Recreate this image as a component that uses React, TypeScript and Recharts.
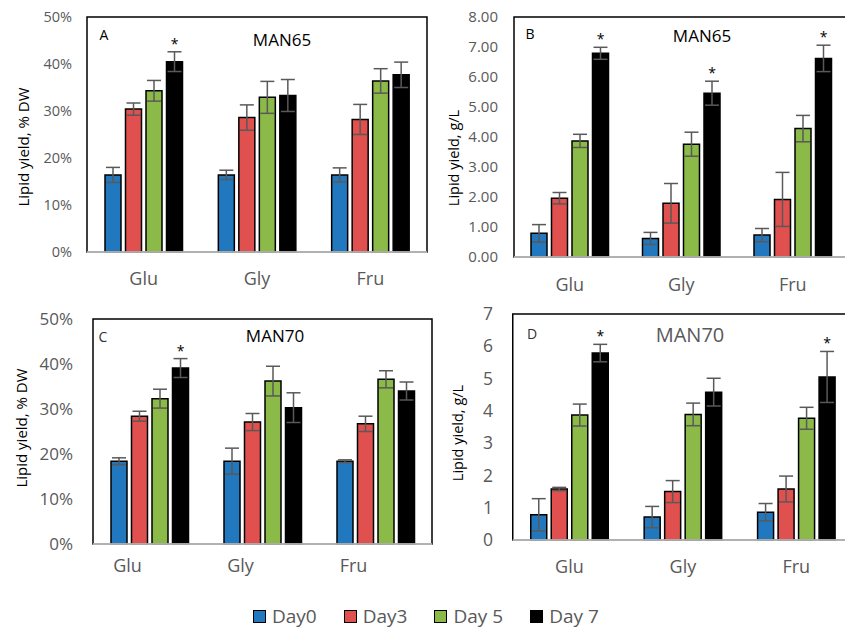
import { BarChart, Bar, XAxis, YAxis, ErrorBar, ReferenceArea, LabelList } from 'recharts'

const categories = ['Glu', 'Gly', 'Fru']
const seriesNames = ['Day0', 'Day3', 'Day 5', 'Day 7']
const seriesColors = ['#2178be', '#e0504e', '#8bba48', '#000000']

// rows: Day0, Day3, Day 5, Day 7 / columns: Glu, Gly, Fru
const man65DwMean = [
  [16.4, 16.4, 16.4],
  [30.4, 28.6, 28.2],
  [34.3, 32.9, 36.4],
  [40.5, 33.3, 37.7],
]
const man65DwErr = [
  [1.6, 1.0, 1.5],
  [1.3, 2.7, 3.2],
  [2.2, 3.4, 2.6],
  [2.1, 3.4, 2.7],
]
const man65DwStar = [true, false, false]

const man65GlMean = [
  [0.79, 0.62, 0.73],
  [1.96, 1.79, 1.92],
  [3.87, 3.76, 4.28],
  [6.79, 5.46, 6.62],
]
const man65GlErr = [
  [0.29, 0.2, 0.22],
  [0.19, 0.66, 0.9],
  [0.22, 0.4, 0.44],
  [0.2, 0.4, 0.44],
]
const man65GlStar = [true, true, true]

const man70DwMean = [
  [18.4, 18.4, 18.4],
  [28.4, 27.1, 26.7],
  [32.3, 36.2, 36.6],
  [39.1, 30.3, 34.0],
]
const man70DwErr = [
  [0.75, 2.9, 0.3],
  [1.1, 1.9, 1.7],
  [2.1, 3.3, 1.9],
  [2.1, 3.3, 2.0],
]
const man70DwStar = [true, false, false]

const man70GlMean = [
  [0.78, 0.71, 0.86],
  [1.58, 1.5, 1.58],
  [3.87, 3.89, 3.77],
  [5.79, 4.58, 5.05],
]
const man70GlErr = [
  [0.5, 0.33, 0.27],
  [0.05, 0.34, 0.4],
  [0.34, 0.35, 0.34],
  [0.27, 0.43, 0.79],
]
const man70GlStar = [true, false, true]

const pctTicks = [0, 10, 20, 30, 40, 50]
const glTicks65 = [0, 1, 2, 3, 4, 5, 6, 7, 8]
const glTicks70 = [0, 1, 2, 3, 4, 5, 6, 7]

const FONT = '"Open Sans", sans-serif'
const GREY = '#595959'

function buildRows(mean: number[][], err: number[][], star: boolean[]) {
  return categories.map((name, i) => {
    const row: any = { name, star: star[i] }
    seriesNames.forEach((_, s) => {
      row['d' + s] = mean[s][i]
      row['e' + s] = err[s][i]
    })
    return row
  })
}

type PanelProps = {
  rows: any[]
  box: { left: number; top: number; width: number; height: number }
  margin: { top: number; right: number; bottom: number; left: number }
  yWidth: number
  yMax: number
  yTicks: number[]
  yFormat: (v: number) => string
  yTickMargin: number
  yFont: number
  xHeight: number
  xTickMargin: number
  xFont: number
  xDx?: number
}

function Panel(p: PanelProps) {
  const starLabel = (props: any) => {
    const row = p.rows[props.index]
    if (!row || !row.star) return null
    const perUnit = props.height / props.value
    const errTop = props.y - perUnit * row.e3
    return (
      <text x={props.x + props.width / 2} y={errTop - 3} textAnchor="middle" fontSize={14} fill="#000" fontFamily={FONT}>
        *
      </text>
    )
  }

  return (
    <div style={{ position: 'absolute', ...p.box }}>
      <BarChart width={p.box.width} height={p.box.height} data={p.rows} margin={p.margin} barGap={4.5}>
        <ReferenceArea y1={0} y2={p.yMax} fill="none" stroke="#000" strokeWidth={1.5} ifOverflow="visible" />
        <XAxis
          dataKey="name"
          height={p.xHeight}
          tickLine={false}
          tickSize={0}
          tickMargin={p.xTickMargin}
          axisLine={{ stroke: '#d9d9d9', strokeWidth: 1.5 }}
          tick={{ fill: GREY, fontSize: p.xFont, fontFamily: FONT, dx: p.xDx ?? 0 }}
        />
        <YAxis
          width={p.yWidth}
          domain={[0, p.yMax]}
          ticks={p.yTicks}
          interval={0}
          tickFormatter={p.yFormat}
          axisLine={false}
          tickLine={false}
          tickSize={0}
          tickMargin={p.yTickMargin}
          tick={{ fill: GREY, fontSize: p.yFont, fontFamily: FONT }}
        />
        {seriesNames.map((name, s) => (
          <Bar
            key={name}
            dataKey={'d' + s}
            name={name}
            fill={seriesColors[s]}
            stroke="#000"
            strokeWidth={1.5}
            barSize={16}
            isAnimationActive={false}
          >
            <ErrorBar dataKey={'e' + s} width={7} stroke={GREY} strokeWidth={1.5} direction="y" isAnimationActive={false} />
            {s === 3 && <LabelList dataKey="d3" content={starLabel} />}
          </Bar>
        ))}
      </BarChart>
    </div>
  )
}

function Note({ x, y, text, size, color = '#000', rotate = false }: { x: number; y: number; text: string; size: number; color?: string; rotate?: boolean }) {
  return (
    <div
      style={{
        position: 'absolute',
        left: x,
        top: y,
        transform: `translate(-50%, -50%)${rotate ? ' rotate(-90deg)' : ''}`,
        whiteSpace: 'nowrap',
        fontSize: size,
        color,
        fontFamily: FONT,
        lineHeight: 1,
      }}
    >
      {text}
    </div>
  )
}

const pct = (v: number) => `${v}%`
const twoDp = (v: number) => v.toFixed(2)
const whole = (v: number) => String(v)

export default function App() {
  return (
    <div style={{ position: 'absolute', left: 0, top: 0, width: 845, height: 634, overflow: 'hidden', background: '#fff', fontFamily: FONT }}>
      <Panel
        rows={buildRows(man65DwMean, man65DwErr, man65DwStar)}
        box={{ left: 0, top: 0, width: 430, height: 295 }}
        margin={{ top: 17, right: 3, bottom: 0, left: 0 }}
        yWidth={87}
        yMax={50}
        yTicks={pctTicks}
        yFormat={pct}
        yTickMargin={15}
        yFont={14.5}
        xHeight={43}
        xTickMargin={20}
        xFont={18}
      />
      <Panel
        rows={buildRows(man65GlMean, man65GlErr, man65GlStar)}
        box={{ left: 420, top: 0, width: 430, height: 295 }}
        margin={{ top: 17, right: 1.5, bottom: 0, left: 0 }}
        yWidth={94}
        yMax={8}
        yTicks={glTicks65}
        yFormat={twoDp}
        yTickMargin={16}
        yFont={15}
        xHeight={38}
        xTickMargin={21}
        xFont={18}
      />
      <Panel
        rows={buildRows(man70DwMean, man70DwErr, man70DwStar)}
        box={{ left: 0, top: 290, width: 435, height: 290 }}
        margin={{ top: 29, right: 3, bottom: 0, left: 0 }}
        yWidth={93}
        yMax={50}
        yTicks={pctTicks}
        yFormat={pct}
        yTickMargin={20}
        yFont={17}
        xHeight={36}
        xTickMargin={15}
        xFont={18}
        xDx={-22}
      />
      <Panel
        rows={buildRows(man70GlMean, man70GlErr, man70GlStar)}
        box={{ left: 420, top: 290, width: 441, height: 290 }}
        margin={{ top: 24, right: 8, bottom: 0, left: 0 }}
        yWidth={92.75}
        yMax={7}
        yTicks={glTicks70}
        yFormat={whole}
        yTickMargin={19.75}
        yFont={17.5}
        xHeight={40}
        xTickMargin={20}
        xFont={18}
      />

      <Note x={23} y={147} text="Lipid yield, % DW" size={15} rotate />
      <Note x={454} y={158} text="Lipid yield, g/L" size={14.5} rotate />
      <Note x={21} y={428} text="Lipid yield, % DW" size={15} rotate />
      <Note x={458} y={433} text="Lipid yield, g/L" size={14.5} rotate />

      <Note x={104} y={35} text="A" size={14} />
      <Note x={282} y={39} text="MAN65" size={17} />
      <Note x={530} y={34} text="B" size={14} />
      <Note x={702} y={35} text="MAN65" size={17} />
      <Note x={103} y={337} text="C" size={14} color="#333" />
      <Note x={275} y={335} text="MAN70" size={17} />
      <Note x={532} y={334} text="D" size={14} color="#333" />
      <Note x={690} y={335} text="MAN70" size={20} color={GREY} />

      <div style={{ position: 'absolute', left: 253, top: 604, display: 'flex', alignItems: 'center', gap: 27, fontSize: 19, color: GREY, fontFamily: FONT }}>
        {seriesNames.map((name, s) => (
          <div key={name} style={{ display: 'flex', alignItems: 'center' }}>
            <span style={{ width: 11, height: 11, background: seriesColors[s], border: '1.5px solid #000', marginRight: 6 }} />
            <span style={{ lineHeight: '24px' }}>{name}</span>
          </div>
        ))}
      </div>
    </div>
  )
}
